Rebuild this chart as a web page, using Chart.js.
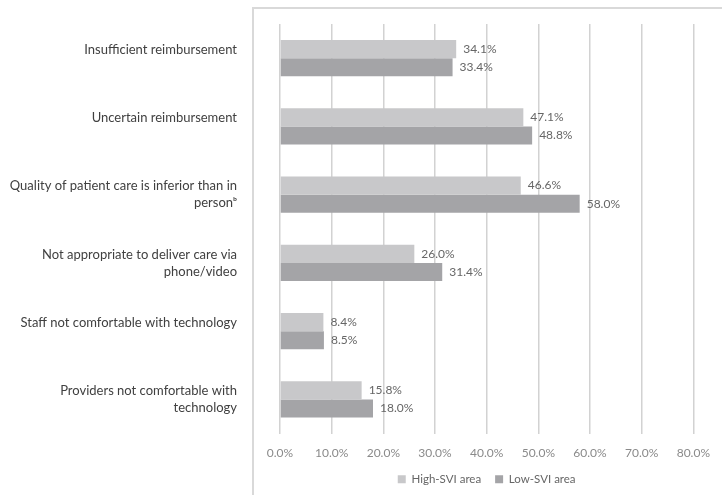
<!DOCTYPE html>
<html>
<head>
<meta charset="utf-8">
<script src="https://cdn.jsdelivr.net/npm/chart.js@4/dist/chart.umd.min.js"></script>
<style>
  html, body { margin: 0; padding: 0; background: #fff; }
  #wrap { position: relative; width: 722px; height: 495px; overflow: hidden; }
  #frame { position: absolute; left: 252px; top: 7px; width: 700px; height: 700px;
           border-left: 2px solid #d9d9d9; border-top: 2px solid #d9d9d9; pointer-events: none; }
  canvas { position: absolute; left: 0; top: 0; }
</style>
</head>
<body>
<div id="wrap">
  <canvas id="c" width="722" height="495"></canvas>
  <div id="frame"></div>
</div>
<script>
const categories = [
  ["Insufficient reimbursement"],
  ["Uncertain reimbursement"],
  ["Quality of patient care is inferior than in", "person\u1D47"],
  ["Not appropriate to deliver care via", "phone/video"],
  ["Staff not comfortable with technology"],
  ["Providers not comfortable with", "technology"]
];
const seriesNames = ["High-SVI area", "Low-SVI area"];
const highSVI = [34.1, 47.1, 46.6, 26.0, 8.4, 15.8];
const lowSVI  = [33.4, 48.8, 58.0, 31.4, 8.5, 18.0];
const tickLabels = ["0.0%", "10.0%", "20.0%", "30.0%", "40.0%", "50.0%", "60.0%", "70.0%", "80.0%"];

const FONT = "Lato, 'Open Sans', 'Liberation Sans', sans-serif";

const valueLabels = {
  id: 'valueLabels',
  afterDatasetsDraw(chart) {
    const ctx = chart.ctx;
    ctx.save();
    ctx.font = "12px " + FONT;
    ctx.fillStyle = "#666666";
    ctx.textAlign = "left";
    ctx.textBaseline = "middle";
    chart.data.datasets.forEach((ds, di) => {
      const meta = chart.getDatasetMeta(di);
      meta.data.forEach((el, i) => {
        ctx.fillText(ds.data[i].toFixed(1) + "%", el.x + 7, el.y);
      });
    });
    ctx.restore();
  }
};

new Chart(document.getElementById('c'), {
  type: 'bar',
  data: {
    labels: categories,
    datasets: [
      { label: seriesNames[0], data: highSVI, backgroundColor: '#c8c8ca' },
      { label: seriesNames[1], data: lowSVI, backgroundColor: '#a4a4a7' }
    ]
  },
  options: {
    indexAxis: 'y',
    responsive: false,
    animation: false,
    events: [],
    layout: { padding: { left: 0, right: 25, top: 24, bottom: 0 } },
    datasets: { bar: { categoryPercentage: 0.53, barPercentage: 1.0 } },
    scales: {
      x: {
        min: 0, max: 80,
        ticks: {
          stepSize: 10,
          color: '#8a8a8a',
          font: { family: FONT, size: 12 },
          padding: 12,
          maxRotation: 0,
          callback: (v, i) => tickLabels[i]
        },
        grid: { color: '#d2d2d2', lineWidth: 1.5, drawTicks: false },
        border: { display: false },
        afterFit: (s) => { s.height = 26; }
      },
      y: {
        ticks: {
          color: '#404040',
          font: { family: FONT, size: 13, lineHeight: 1.3 },
          padding: 0,
          callback: function(v, i) {
            const lines = categories[i];
            return lines.length === 1 ? [lines[0], ""] : lines;
          }
        },
        grid: { display: false, drawTicks: true, tickLength: 43 },
        border: { display: false },
        afterFit: (s) => { s.width = 280; s.paddingTop = 0; s.paddingBottom = 0; }
      }
    },
    plugins: {
      legend: {
        position: 'bottom',
        fullSize: false,
        labels: {
          boxWidth: 8, boxHeight: 8,
          color: '#666666',
          font: { family: FONT, size: 11.5 },
          padding: 14
        }
      },
      tooltip: { enabled: false }
    }
  },
  plugins: [valueLabels]
});
</script>
</body>
</html>
